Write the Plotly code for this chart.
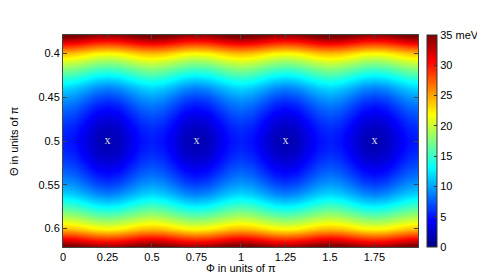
import plotly.graph_objects as go

# Phi samples over one period (units of pi); pattern repeats every 0.5 pi
phi_period = [0.0, 0.0625, 0.125, 0.1875, 0.25, 0.3125, 0.375, 0.4375]
n_periods = 4

# Theta rows (units of pi), top half; lower half mirrors it
theta_half = [0.38, 0.39, 0.40, 0.41, 0.42, 0.43, 0.44, 0.45, 0.46, 0.47, 0.48, 0.49, 0.50]

# Energy (meV), per theta row, over one phi period
E_rows_half = [
    [35.7, 35.4, 34.6, 33.8, 33.5, 33.8, 34.6, 35.4],
    [29.7, 29.4, 28.6, 27.8, 27.5, 27.8, 28.6, 29.4],
    [24.3, 24.0, 23.2, 22.3, 22.0, 22.3, 23.2, 24.0],
    [20.4, 20.0, 19.2, 18.4, 18.0, 18.4, 19.2, 20.0],
    [17.1, 16.7, 15.8, 14.9, 14.5, 14.9, 15.8, 16.7],
    [14.1, 13.7, 12.7, 11.7, 11.3, 11.7, 12.7, 13.7],
    [11.8, 11.3, 10.3, 9.2, 8.7, 9.2, 10.3, 11.3],
    [9.9, 9.4, 8.3, 7.1, 6.6, 7.1, 8.3, 9.4],
    [8.4, 7.9, 6.7, 5.4, 4.9, 5.4, 6.7, 7.9],
    [7.2, 6.7, 5.4, 4.1, 3.6, 4.1, 5.4, 6.7],
    [6.3, 5.8, 4.5, 3.1, 2.6, 3.1, 4.5, 5.8],
    [5.6, 5.1, 3.8, 2.4, 1.9, 2.4, 3.8, 5.1],
    [5.3, 4.8, 3.5, 2.1, 1.6, 2.1, 3.5, 4.8],
]

# Minima positions marked with "x"
min_phi = [0.25, 0.75, 1.25, 1.75]
min_theta = [0.5, 0.5, 0.5, 0.5]

x_ticks = [0, 0.25, 0.5, 0.75, 1, 1.25, 1.5, 1.75]
x_ticktext = ["0", "0.25", "0.5", "0.75", "1", "1.25", "1.5", "1.75"]
y_ticks = [0.4, 0.45, 0.5, 0.55, 0.6]
y_ticktext = ["0.4", "0.45", "0.5", "0.55", "0.6"]
c_ticks = [0, 5, 10, 15, 20, 25, 30, 35]
c_ticktext = ["0", "5", "10", "15", "20", "25", "30", "35 meV"]
x_title = "Φ in units of π"
y_title = "Θ in units of π"

# Build full table
phi = [p + 0.5 * k for k in range(n_periods) for p in phi_period] + [2.0]
theta_lower = [round(1.0 - t, 2) for t in reversed(theta_half[:-1])]
theta = theta_half + theta_lower
rows = E_rows_half + list(reversed(E_rows_half[:-1]))
z = [r * n_periods + [r[0]] for r in rows]

jet = [
    [0.0, "rgb(0,0,128)"],
    [0.125, "rgb(0,0,255)"],
    [0.375, "rgb(0,255,255)"],
    [0.625, "rgb(255,255,0)"],
    [0.875, "rgb(255,0,0)"],
    [1.0, "rgb(128,0,0)"],
]

font_family = "Liberation Sans, Arial, sans-serif"

fig = go.Figure()
fig.add_trace(go.Heatmap(
    x=phi, y=theta, z=z,
    zmin=0, zmax=35, zsmooth="best",
    colorscale=jet,
    colorbar=dict(
        x=1.025, xanchor="left", xpad=0,
        y=0.5, yanchor="middle", len=1.0, lenmode="fraction", ypad=0,
        thickness=10, thicknessmode="pixels",
        outlinewidth=1, outlinecolor="#333",
        tickvals=c_ticks, ticktext=c_ticktext,
        ticks="inside", ticklen=3, tickcolor="#333",
        tickfont=dict(family=font_family, size=11, color="black"),
    ),
    hoverinfo="skip",
))
fig.add_trace(go.Scatter(
    x=min_phi, y=min_theta, mode="text", text=["x"] * len(min_phi),
    textfont=dict(family="Liberation Serif, Times New Roman, serif", size=12, color="#d8d8e8"),
    textposition="middle center", showlegend=False, hoverinfo="skip",
))

axis_common = dict(
    showgrid=False, zeroline=False, automargin=False,
    showline=True, linecolor="#444", linewidth=1, mirror="ticks",
    ticks="inside", ticklen=4, tickcolor="#444",
    tickfont=dict(family=font_family, size=11, color="black"),
)

fig.update_layout(
    width=477, height=270,
    margin=dict(l=55, r=67, t=27, b=31, autoexpand=False),
    paper_bgcolor="white", plot_bgcolor="white",
    showlegend=False,
    xaxis=dict(range=[0, 1.995], tickvals=x_ticks, ticktext=x_ticktext, **axis_common),
    yaxis=dict(range=[0.621, 0.379], tickvals=y_ticks, ticktext=y_ticktext, **axis_common),
    annotations=[
        dict(text=x_title, xref="paper", yref="paper", x=0.5, y=-0.099,
             xanchor="center", yanchor="middle", showarrow=False,
             font=dict(family=font_family, size=11, color="black")),
        dict(text=y_title, xref="paper", yref="paper", x=-0.138, y=0.5,
             xanchor="center", yanchor="middle", showarrow=False, textangle=-90,
             font=dict(family=font_family, size=11, color="black")),
    ],
)

fig.write_html("out.html")
